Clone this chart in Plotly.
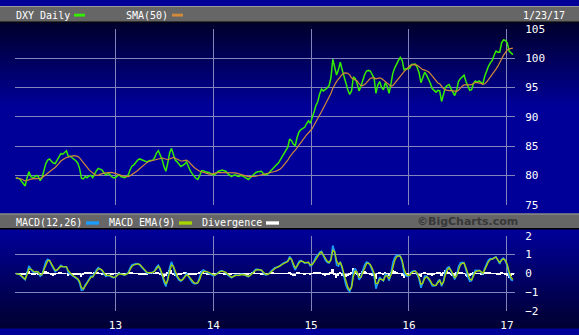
import plotly.graph_objects as go
import pandas as pd

# ---------------- data (weekly samples) ----------------
start_date = "2011-12-26"
price = [
    79.6, 79.5, 79.4, 79.0, 78.6, 78.2, 79.6, 80.6, 79.8, 79.6,
    79.7, 80.0, 79.8, 79.1, 79.6, 81.0, 82.0, 82.6, 82.8, 82.4,
    82.1, 82.0, 82.6, 83.2, 83.7, 83.6, 83.9, 84.2, 83.2, 83.3,
    83.0, 82.8, 82.5, 82.1, 81.2, 79.5, 79.4, 79.8, 79.6, 79.9,
    80.0, 79.6, 80.3, 80.8, 81.2, 81.0, 80.9, 80.4, 80.1, 80.3,
    80.2, 79.8, 79.6, 79.6, 79.9, 80.1, 79.8, 79.7, 79.6, 79.8,
    80.1, 81.0, 81.6, 81.8, 82.3, 82.6, 82.8, 82.7, 82.6, 82.4,
    82.3, 82.5, 82.6, 82.6, 83.0, 83.8, 84.2, 83.5, 82.7, 81.5,
    80.7, 82.1, 83.8, 84.6, 83.6, 82.6, 82.3, 81.8, 81.5, 81.7,
    81.9, 82.3, 81.5, 80.8, 80.3, 79.8, 79.5, 79.3, 79.9, 80.8,
    80.8, 80.6, 80.6, 80.5, 80.3, 80.1, 80.1, 80.4, 80.7, 80.8,
    80.9, 80.8, 80.7, 80.3, 80.0, 79.8, 80.0, 80.1, 79.9, 79.8,
    80.0, 79.9, 79.7, 79.5, 79.3, 79.6, 79.9, 80.3, 80.5, 80.6,
    80.7, 80.7, 80.3, 80.1, 80.2, 80.4, 80.8, 81.2, 81.5, 81.8,
    82.1, 82.6, 83.2, 83.7, 84.2, 84.8, 86.2, 85.9, 85.3, 85.1,
    86.5, 87.4, 87.8, 88.0, 88.2, 88.8, 89.3, 88.9, 89.7, 90.8,
    91.9, 92.6, 93.9, 94.7, 94.4, 94.6, 94.9, 95.3, 96.6, 99.8,
    98.6, 97.1, 98.0, 99.3, 98.0, 96.7, 95.5, 94.6, 93.8, 94.4,
    96.8, 96.5, 95.6, 94.4, 95.2, 96.4, 97.2, 97.8, 97.9, 97.8,
    97.3, 96.6, 94.0, 95.4, 96.0, 95.0, 94.6, 95.8, 95.2, 94.0,
    95.6, 97.4, 98.3, 99.1, 99.6, 100.1, 99.6, 98.0, 98.2, 98.2,
    98.3, 98.9, 99.0, 99.0, 98.4, 97.5, 95.8, 96.9, 97.6, 97.1,
    96.5, 95.7, 94.8, 94.5, 94.2, 94.5, 94.4, 92.6, 93.6, 95.0,
    95.3, 95.5, 94.8, 94.1, 93.6, 94.5, 96.0, 96.5, 96.8, 97.1,
    96.0, 95.1, 94.5, 94.6, 95.7, 96.1, 95.9, 96.1, 95.8, 95.6,
    96.9, 97.8, 98.6, 99.2, 99.6, 100.5, 101.2, 101.0, 101.0, 102.6,
    103.1, 103.0, 102.6, 101.2, 100.8, 100.6,
]
year_ticks = ["2013-01-01", "2014-01-01", "2015-01-01", "2016-01-01", "2017-01-01"]
year_labels = ["13", "14", "15", "16", "17"]
price_ticks = [75, 80, 85, 90, 95, 100, 105]
macd_ticks = [-2, -1, 0, 1, 2]

# indicator parameters (daily 50 / 12,26,9 expressed for weekly samples)
SMA_WEEKS = 10
FAST_SPAN, SLOW_SPAN, SIGNAL_SPAN = 2.53, 5.27, 1.98

dates = pd.date_range(start_date, periods=len(price), freq="7D")
s = pd.Series(price)
sma = s.rolling(SMA_WEEKS, min_periods=1).mean()
macd = s.ewm(span=FAST_SPAN, adjust=False).mean() - s.ewm(span=SLOW_SPAN, adjust=False).mean()
signal = macd.ewm(span=SIGNAL_SPAN, adjust=False).mean()
div = macd - signal

# ---------------- styling ----------------
W, H = 579, 335
FONT = "DejaVu Sans Mono"
GRID = "#8484bc"


def py(y):
    return 1 - y / H


def px(x):
    return x / W


fig = go.Figure()
fig.add_trace(go.Scatter(x=dates, y=price, mode="lines", line=dict(color="#33ee00", width=1.5),
                         xaxis="x", yaxis="y", hoverinfo="skip"))
fig.add_trace(go.Scatter(x=dates, y=sma, mode="lines", line=dict(color="#d08a38", width=1.2),
                         xaxis="x", yaxis="y", hoverinfo="skip"))
fig.add_trace(go.Bar(x=dates, y=div, marker=dict(color="white", line=dict(width=0)),
                     width=7 * 86400000, xaxis="x2", yaxis="y2", hoverinfo="skip"))
fig.add_trace(go.Scatter(x=dates, y=macd, mode="lines", line=dict(color="#1a9cff", width=1.6),
                         xaxis="x2", yaxis="y2", hoverinfo="skip"))
fig.add_trace(go.Scatter(x=dates, y=signal, mode="lines", line=dict(color="#a8d400", width=1.3),
                         xaxis="x2", yaxis="y2", hoverinfo="skip"))

shapes = []


def rect(x0, y0, x1, y1, color):
    shapes.append(dict(type="rect", xref="paper", yref="paper", x0=px(x0), x1=px(x1),
                       y0=py(y1), y1=py(y0), fillcolor=color, line=dict(width=0), layer="below"))


# price panel background gradient
n = 22
for k in range(n):
    y0 = 17 + k * (88 / n)
    b = int(45 + (150 - 45) * k / (n - 1))
    rect(0, y0, W, y0 + 88 / n + 0.5, f"rgb(0,0,{b})")
rect(0, 105, W, 217, "rgb(0,0,153)")
# macd panel background gradient
n2 = 26
for k in range(n2):
    y0 = 232 + k * (103 / n2)
    b = int(153 - (153 - 50) * k / (n2 - 1))
    rect(0, y0, W, y0 + 103 / n2 + 0.5, f"rgb(0,0,{b})")

# header bars
rect(0, 0, W, 17, "#666666")
rect(0, 0, W, 1, "#9a9a9a")
rect(0, 16, W, 17.5, "#000000")
rect(0, 216, W, 232, "#666666")
rect(0, 216, W, 217, "#9a9a9a")
rect(0, 231, W, 232.5, "#000000")

# legend swatches
for (x0, x1, y0, y1, c) in [(74, 85, 8, 11, "#33ee00"), (172, 183, 8, 11, "#d08a38"),
                             (86, 99, 224, 227.5, "#1a9cff"), (179, 192, 224, 227.5, "#a8d400"),
                             (266, 279, 224, 227.5, "#ffffff")]:
    shapes.append(dict(type="rect", xref="paper", yref="paper", x0=px(x0), x1=px(x1),
                       y0=py(y1), y1=py(y0), fillcolor=c, line=dict(width=0), layer="above"))

annotations = []


def label(x, y, text, color="white", size=10, anchor="left", family=FONT):
    annotations.append(dict(x=px(x), y=py(y), xref="paper", yref="paper", text=text, showarrow=False,
                            xanchor=anchor, yanchor="middle", borderpad=0,
                            font=dict(family=family, size=size, color=color)))


label(15, 9.5, "DXY Daily")
label(125, 9.5, "SMA(50)")
label(566, 9.5, "1/23/17", anchor="right")
label(15, 225.5, "MACD(12,26)")
label(108, 225.5, "MACD EMA(9)")
label(201, 225.5, "Divergence")
label(519, 224.5, "<b>©BigCharts.com</b>", color="#383838", size=11, anchor="right", family="DejaVu Sans")

x_range = ["2011-12-23", "2017-01-31"]
axis_common = dict(showgrid=True, gridcolor=GRID, gridwidth=1, zeroline=False, showline=False)

fig.update_layout(
    width=W, height=H, margin=dict(l=0, r=0, t=0, b=0, pad=0),
    paper_bgcolor="#000099", plot_bgcolor="rgba(0,0,0,0)",
    showlegend=False, bargap=0,
    shapes=shapes, annotations=annotations,
    xaxis=dict(domain=[px(15), px(515)], type="date", range=x_range, tickvals=year_ticks,
               showticklabels=False, ticks="", anchor="y", **axis_common),
    yaxis=dict(domain=[py(206.7), py(23.7)], range=[75, 105], tickvals=price_ticks, side="right",
               ticks="outside", ticklen=7, tickcolor="rgba(0,0,0,0)", anchor="x",
               tickfont=dict(family=FONT, size=11, color="white"), **axis_common),
    xaxis2=dict(domain=[px(15), px(515)], type="date", range=x_range, tickvals=year_ticks,
                ticktext=year_labels, ticks="outside", ticklen=3, tickcolor="rgba(0,0,0,0)", anchor="y2",
                tickfont=dict(family=FONT, size=11, color="white"), **axis_common),
    yaxis2=dict(domain=[py(317.7), py(239)], range=[-2, 2], tickvals=macd_ticks, side="right",
                ticks="outside", ticklen=7, tickcolor="rgba(0,0,0,0)", anchor="x2",
                tickfont=dict(family=FONT, size=11, color="white"), **axis_common),
)

fig.write_html("out.html")
